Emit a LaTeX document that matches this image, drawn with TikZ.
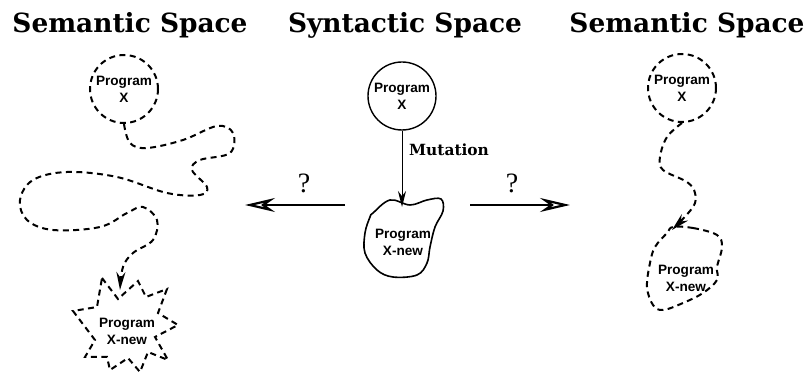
\documentclass[tikz,border=0pt]{standalone}
\usepackage{fontspec}
\usepackage{tikz}
\usetikzlibrary{positioning,arrows.meta,calc}
\newfontfamily\titlefont{DejaVu Serif}
\newfontfamily\progfont{Liberation Sans}
\newfontfamily\qfont{Liberation Serif}

\begin{document}
\begin{tikzpicture}[
    x=0.5pt, y=-0.5pt,
    title/.style={
        anchor=base,
        font=\titlefont\bfseries\fontsize{13.2}{15}\selectfont
    },
    prog/.style={
        align=center,
        inner sep=1pt,
        font=\progfont\bfseries\fontsize{6.8}{8.5}\selectfont
    },
    solidcirc/.style={
        prog,
        circle,
        draw=black,
        line width=0.7pt,
        minimum size=34pt
    },
    dashcirc/.style={
        solidcirc,
        line width=1pt,
        dash pattern=on 3pt off 2.2pt
    },
    walk/.style={
        line width=1pt,
        dash pattern=on 3pt off 2.2pt,
        -{Stealth[length=9pt,width=4.5pt]}
    },
    outline/.style={
        line width=1pt,
        dash pattern=on 3pt off 2.2pt
    },
    qarrow/.style={
        line width=1.1pt,
        -{Stealth[open,length=15pt,width=7pt,inset=5pt]}
    },
    qmark/.style={
        above,
        yshift=2pt,
        font=\qfont\fontsize{14}{16}\selectfont
    }
]
\useasboundingbox (0,0) rectangle (809,373);

% Titles
\node[title] (ltitle) at (130,33) {Semantic Space};
\node[title] (mtitle) at (405,33) {Syntactic Space};
\node[title] (rtitle) at (687,33) {Semantic Space};

% Syntactic space: mutation step
\node[solidcirc] (mx) at (402,96) {Program\\X};
\node[prog] (mnew) at (403,242) {Program\\X-new};
\coordinate (mtip) at (402,207);
\draw[line width=0.8pt] plot[smooth cycle, tension=0.6] coordinates {
    ($(mnew)+(-30,-29)$) ($(mnew)+(-13,-42)$) ($(mnew)+(7,-37)$)
    ($(mnew)+(24,-42)$) ($(mnew)+(38,-43)$) ($(mnew)+(40,-31)$)
    ($(mnew)+(32,-15)$) ($(mnew)+(27,5)$) ($(mnew)+(24,21)$)
    ($(mnew)+(14,33)$) ($(mnew)+(-10,35)$) ($(mnew)+(-26,28)$)
    ($(mnew)+(-38,11)$) ($(mnew)+(-38,-9)$) ($(mnew)+(-33,-25)$)};
\draw[line width=0.5pt, -{Stealth[length=8pt,width=4pt]}] (mx) -- node[right, pos=0.25,
    font=\titlefont\bfseries\fontsize{7.7}{9}\selectfont] (mut) {Mutation} (mtip);

% Left semantic space: a long way round
\node[dashcirc] (lx) at (124,89) {Program\\X};
\node[prog] (lnew) at (127,331) {Program\\X-new};
\coordinate (ltip) at (120,290);
\draw[outline] ($(lnew)+(-25,-53)$) -- ($(lnew)+(-9,-32)$) -- ($(lnew)+(11,-50)$)
    -- ($(lnew)+(19,-34)$) -- ($(lnew)+(40,-42)$) -- ($(lnew)+(31,-18)$)
    -- ($(lnew)+(51,-6)$) -- ($(lnew)+(28,6)$) -- ($(lnew)+(41,29)$)
    -- ($(lnew)+(21,21)$) -- ($(lnew)+(13,41)$) -- ($(lnew)+(1,27)$)
    -- ($(lnew)+(-17,39)$) -- ($(lnew)+(-20,26)$) -- ($(lnew)+(-42,26)$)
    -- ($(lnew)+(-32,9)$) -- ($(lnew)+(-54,-20)$) -- ($(lnew)+(-30,-24)$) -- cycle;
\draw[walk] plot[smooth, tension=0.6] coordinates {
    (lx.south) (130,143) (147,148) (183,140) (217,126) (233,133) (230,153)
    (200,160) (192,170) (207,187) (200,195) (167,193) (117,177) (67,172)
    (33,180) (20,200) (27,220) (53,230) (100,227) (127,213) (143,207)
    (157,220) (153,240) (133,253) (123,267) (ltip)};

% Right semantic space: a short way
\node[dashcirc] (rx) at (682,88) {Program\\X};
\node[prog] (rnew) at (686,278) {Program\\X-new};
\coordinate (rtip) at (672,230);
\draw[outline] plot[smooth cycle, tension=0.6] coordinates {
    ($(rnew)+(-13,-51)$) ($(rnew)+(7,-50)$) ($(rnew)+(31,-43)$)
    ($(rnew)+(36,-31)$) ($(rnew)+(31,-11)$) ($(rnew)+(31,2)$)
    ($(rnew)+(17,15)$) ($(rnew)+(-3,25)$) ($(rnew)+(-23,32)$)
    ($(rnew)+(-33,27)$) ($(rnew)+(-39,9)$) ($(rnew)+(-36,-15)$)
    ($(rnew)+(-31,-31)$) ($(rnew)+(-19,-45)$)};
\draw[walk] plot[smooth, tension=0.6] coordinates {
    (rx.south) (667,137) (660,157) (663,170) (687,182) (695,193) (693,207) (rtip)};

% Question arrows
\coordinate (lqs) at (345,205);
\coordinate (lqe) at (245,205);
\coordinate (rqs) at (470,205);
\coordinate (rqe) at (570,205);
\draw[qarrow] (lqs) -- node[qmark, pos=0.41] (lq) {?} (lqe);
\draw[qarrow] (rqs) -- node[qmark, pos=0.42] (rq) {?} (rqe);

\end{tikzpicture}
\end{document}
